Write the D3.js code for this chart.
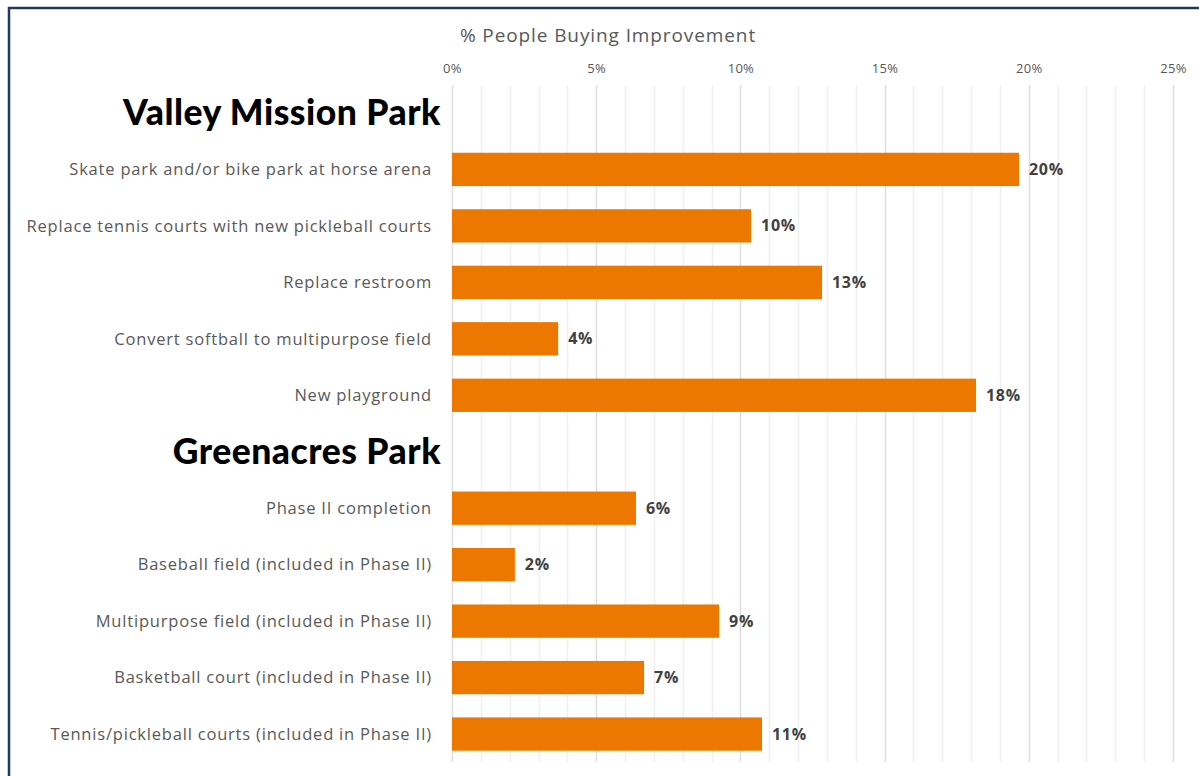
<!DOCTYPE html>
<html>
<head>
<meta charset="utf-8">
<script src="https://cdn.jsdelivr.net/npm/d3@7"></script>
<style>
  body { margin: 0; background: #fff; }
  svg { display: block; }
  .tick text { fill: #595959; font-family: "Open Sans", sans-serif; font-size: 13px; letter-spacing: 0.3px; }
</style>
</head>
<body>
<svg class="chart"></svg>
<script>
var width = 1199,
	height = 776,
	margin = {top: 85, right: 26, bottom: 14, left: 452};

// rows: a null value marks a park heading
var categories = [
	"Valley Mission Park",
	"Skate park and/or bike park at horse arena",
	"Replace tennis courts with new pickleball courts",
	"Replace restroom",
	"Convert softball to multipurpose field",
	"New playground",
	"Greenacres Park",
	"Phase II completion",
	"Baseball field (included in Phase II)",
	"Multipurpose field (included in Phase II)",
	"Basketball court (included in Phase II)",
	"Tennis/pickleball courts (included in Phase II)"
];
var values = [null, 19.66, 10.37, 12.83, 3.68, 18.17, null, 6.38, 2.18, 9.26, 6.66, 10.75];
var tickValues = [0, 5, 10, 15, 20, 25];

var rows = categories.map(function(c, i) { return {name: c, value: values[i]}; });

var x = d3.scaleLinear()
	.domain([0, 25])
	.range([margin.left, margin.left + 721]);

var y = d3.scaleBand()
	.domain(categories)
	.range([margin.top, height - margin.bottom])
	.paddingInner(0.41)
	.paddingOuter(0.2);

var chart = d3.select(".chart")
	.attr("width", width)
	.attr("height", height);

// frame
chart.append("path")
	.attr("d", "M9,776V8H1199")
	.attr("fill", "none")
	.attr("stroke", "#1f3864")
	.attr("stroke-width", 2.5);

// minor gridlines every 1%
chart.append("g")
	.selectAll("line")
	.data(d3.range(1, 26).filter(function(d) { return d % 5 !== 0; }))
	.enter().append("line")
	.attr("x1", function(d) { return Math.round(x(d)) + 0.5; })
	.attr("x2", function(d) { return Math.round(x(d)) + 0.5; })
	.attr("y1", margin.top)
	.attr("y2", height - margin.bottom)
	.attr("stroke", "#efefef")
	.attr("stroke-width", 1.5);

// major gridlines
chart.append("g")
	.selectAll("line")
	.data(tickValues)
	.enter().append("line")
	.attr("x1", function(d) { return Math.round(x(d)) + 0.5; })
	.attr("x2", function(d) { return Math.round(x(d)) + 0.5; })
	.attr("y1", margin.top)
	.attr("y2", height - margin.bottom)
	.attr("stroke", "#dedede")
	.attr("stroke-width", 1.5);

var axis = d3.axisTop(x)
	.tickValues(tickValues)
	.tickSize(0)
	.tickPadding(0)
	.tickFormat(function(d) { return d + "%"; });

chart.append("g")
	.attr("transform", "translate(0,73)")
	.call(axis)
	.call(function(g) { g.select(".domain").remove(); });

chart.append("text")
	.attr("x", 608)
	.attr("y", 42)
	.attr("text-anchor", "middle")
	.attr("fill", "#595959")
	.style("font-family", "Open Sans, sans-serif")
	.style("font-size", "19px")
	.style("letter-spacing", "0.9px")
	.text("% People Buying Improvement");

var row = chart.selectAll(".row")
	.data(rows)
	.enter().append("g")
	.attr("class", "row")
	.attr("transform", function(d) { return "translate(0," + y(d.name) + ")"; });

var bars = row.filter(function(d) { return d.value !== null; });
var heads = row.filter(function(d) { return d.value === null; });

bars.append("rect")
	.attr("x", x(0))
	.attr("width", function(d) { return x(d.value) - x(0); })
	.attr("height", y.bandwidth())
	.attr("fill", "#ed7801");

bars.append("text")
	.attr("x", function(d) { return x(d.value) + 10; })
	.attr("y", y.bandwidth() / 2)
	.attr("dy", ".35em")
	.attr("fill", "#404040")
	.style("font-family", "Open Sans, sans-serif")
	.style("font-size", "16px")
	.style("font-weight", "bold")
	.style("letter-spacing", "0.7px")
	.text(function(d) { return Math.round(d.value) + "%"; });

bars.append("text")
	.attr("x", 432)
	.attr("y", y.bandwidth() / 2)
	.attr("dy", ".35em")
	.attr("text-anchor", "end")
	.attr("fill", "#595959")
	.style("font-family", "Open Sans, sans-serif")
	.style("font-size", "16.5px")
	.style("letter-spacing", "0.8px")
	.text(function(d) { return d.name; });

heads.append("text")
	.attr("x", 441)
	.attr("y", y.bandwidth() / 2)
	.attr("dy", ".35em")
	.attr("text-anchor", "end")
	.attr("fill", "#000")
	.style("font-family", "Lato, sans-serif")
	.style("font-size", "35.5px")
	.style("font-weight", "900")
	.style("letter-spacing", "0.5px")
	.text(function(d) { return d.name; });
</script>
</body>
</html>
